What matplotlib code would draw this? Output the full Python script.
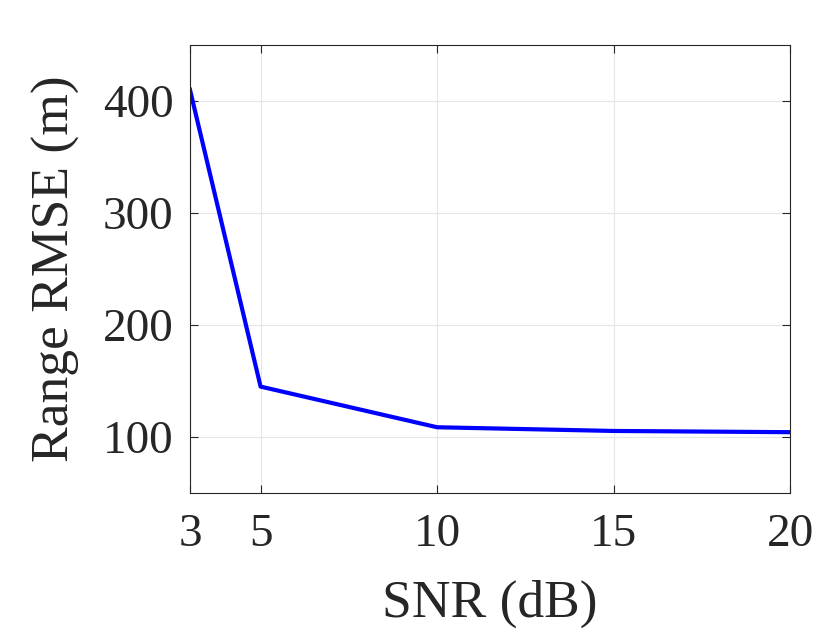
import matplotlib.pyplot as plt

snr_db = [3, 5, 10, 15, 20]
range_rmse = [410, 145, 108.7, 105.4, 104.3]
x_ticks = [3, 5, 10, 15, 20]
y_ticks = [100, 200, 300, 400]

plt.rcParams['font.family'] = ['Liberation Serif', 'DejaVu Serif']

fig = plt.figure(figsize=(8.31, 6.37), dpi=100)
ax = fig.add_axes([190 / 831, 1 - 493 / 637, 600 / 831, 448 / 637])

ax.plot(snr_db, range_rmse, color='#0000ff', linewidth=3)

ax.set_xlim(3, 20)
ax.set_ylim(50, 450)
ax.set_xticks(x_ticks)
ax.set_yticks(y_ticks)
ax.grid(True, color='#e6e6e6', linewidth=0.8)
ax.set_axisbelow(True)
ax.tick_params(direction='in', top=True, right=True, labelsize=34,
               length=6, width=0.8, color='#262626', labelcolor='#262626')
ax.tick_params(axis='y', pad=12)
ax.tick_params(axis='x', pad=15)
for s in ax.spines.values():
    s.set_color('#262626')
    s.set_linewidth(0.8)

ax.set_xlabel('SNR (dB)', fontsize=38.5, color='#262626', labelpad=17)
ax.set_ylabel('Range RMSE (m)', fontsize=38.5, color='#262626', labelpad=16)

fig.savefig('out.png', dpi=100)
